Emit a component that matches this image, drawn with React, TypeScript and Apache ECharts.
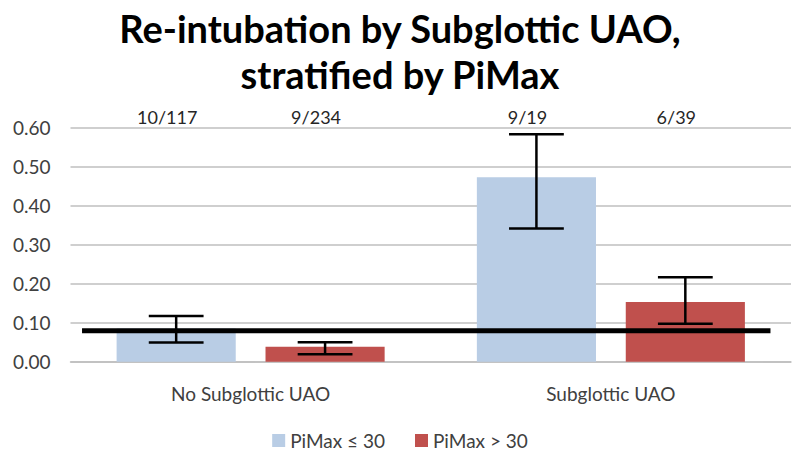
import React, { useEffect, useRef } from "react";
import * as echarts from "echarts";

const categories = ["No Subglottic UAO", "Subglottic UAO"];
const seriesNames = ["PiMax ≤ 30", "PiMax > 30"];
const lowPiMaxRate = [0.085, 0.472];
const highPiMaxRate = [0.038, 0.153];
const lowPiMaxCiLower = [0.049, 0.341];
const lowPiMaxCiUpper = [0.117, 0.582];
const highPiMaxCiLower = [0.019, 0.097];
const highPiMaxCiUpper = [0.050, 0.216];
const lowPiMaxCounts = ["10/117", "9/19"];
const highPiMaxCounts = ["9/234", "6/39"];
const referenceRate = 0.079;
const yTicks = [0, 0.1, 0.2, 0.3, 0.4, 0.5, 0.6];

const FONT = 'Lato, "Open Sans", sans-serif';
const BLUE = "#B9CDE5";
const RED = "#C0504D";
const CAT_GAP = 0.256;
const BAR_GAP = 0.25;

export default function App() {
  const ref = useRef<HTMLDivElement>(null);
  useEffect(() => {
    if (!ref.current) return;
    const chart = echarts.init(ref.current, null, { renderer: "svg" });

    const errData: any[] = [];
    const errLabels: string[] = [];
    categories.forEach((_, ci) => {
      errData.push([ci, 0, lowPiMaxCiLower[ci], lowPiMaxCiUpper[ci]]);
      errLabels.push(lowPiMaxCounts[ci]);
      errData.push([ci, 1, highPiMaxCiLower[ci], highPiMaxCiUpper[ci]]);
      errLabels.push(highPiMaxCounts[ci]);
    });

    const option: any = {
      animation: false,
      backgroundColor: "#fff",
      title: {
        text: "Re-intubation by Subglottic UAO,\nstratified by PiMax",
        left: "center",
        top: 0,
        textStyle: {
          fontFamily: FONT,
          fontSize: 38,
          fontWeight: "bold",
          lineHeight: 46,
          color: "#000",
        },
      },
      grid: { left: 70.5, right: 9, top: 127.3, bottom: 94.3 },
      legend: {
        bottom: 1,
        left: "center",
        itemWidth: 13,
        itemHeight: 13,
        itemGap: 30,
        icon: "rect",
        data: seriesNames,
        textStyle: { fontFamily: FONT, fontSize: 19, color: "#404040" },
      },
      xAxis: {
        type: "category",
        data: categories,
        axisTick: { show: false },
        axisLine: { lineStyle: { color: "#BFBFBF", width: 1.5 } },
        axisLabel: {
          fontFamily: FONT,
          fontSize: 19,
          color: "#404040",
          margin: 22,
        },
      },
      yAxis: {
        type: "value",
        min: yTicks[0],
        max: yTicks[yTicks.length - 1],
        interval: 0.1,
        axisLine: { show: false },
        axisTick: { show: false },
        splitLine: { lineStyle: { color: "#BFBFBF", width: 1.5 } },
        axisLabel: {
          fontFamily: FONT,
          fontSize: 19,
          color: "#404040",
          margin: 20,
          formatter: (v: number) => v.toFixed(2),
        },
      },
      series: [
        {
          name: seriesNames[0],
          type: "bar",
          data: lowPiMaxRate,
          itemStyle: { color: BLUE },
          barCategoryGap: CAT_GAP * 100 + "%",
          barGap: BAR_GAP * 100 + "%",
        },
        {
          name: seriesNames[1],
          type: "bar",
          data: highPiMaxRate,
          itemStyle: { color: RED },
          barCategoryGap: CAT_GAP * 100 + "%",
          barGap: BAR_GAP * 100 + "%",
        },
        {
          type: "custom",
          z: 5,
          silent: true,
          data: [[0, referenceRate]],
          renderItem: (params: any, api: any) => {
            const bw = api.size([1, 0])[0];
            const p0 = api.coord([0, api.value(1)]);
            const p1 = api.coord([categories.length - 1, api.value(1)]);
            return {
              type: "line",
              shape: { x1: p0[0] - 0.468 * bw, y1: p0[1], x2: p1[0] + 0.443 * bw, y2: p1[1] },
              style: { stroke: "#000", lineWidth: 5 },
            };
          },
        },
        {
          type: "custom",
          z: 6,
          silent: true,
          data: errData,
          renderItem: (params: any, api: any) => {
            const cat = api.value(0);
            const si = api.value(1);
            const lo = api.value(2);
            const hi = api.value(3);
            const bw = api.size([1, 0])[0];
            const barW = (bw * (1 - CAT_GAP)) / (2 + BAR_GAP);
            const off = (si === 0 ? -1 : 1) * barW * (0.5 + BAR_GAP / 2);
            const base = api.coord([cat, lo]);
            const top = api.coord([cat, hi]);
            const labelY = api.coord([cat, yTicks[yTicks.length - 1]])[1];
            const x = base[0] + off;
            const cap = barW * 0.23;
            const st = { stroke: "#000", lineWidth: 2.5 };
            return {
              type: "group",
              children: [
                { type: "line", shape: { x1: x, y1: base[1], x2: x, y2: top[1] }, style: st },
                { type: "line", shape: { x1: x - cap, y1: base[1], x2: x + cap, y2: base[1] }, style: st },
                { type: "line", shape: { x1: x - cap, y1: top[1], x2: x + cap, y2: top[1] }, style: st },
                {
                  type: "text",
                  x: x - 9,
                  y: labelY - 10,
                  style: {
                    text: errLabels[params.dataIndex],
                    fontFamily: FONT,
                    fontSize: 18,
                    fill: "#262626",
                    align: "center",
                    verticalAlign: "middle",
                  },
                },
              ],
            };
          },
        },
      ],
    };
    chart.setOption(option);
    return () => chart.dispose();
  }, []);
  return (
    <div
      ref={ref}
      style={{ position: "fixed", left: 0, top: 0, width: 800, height: 456 }}
    />
  );
}
